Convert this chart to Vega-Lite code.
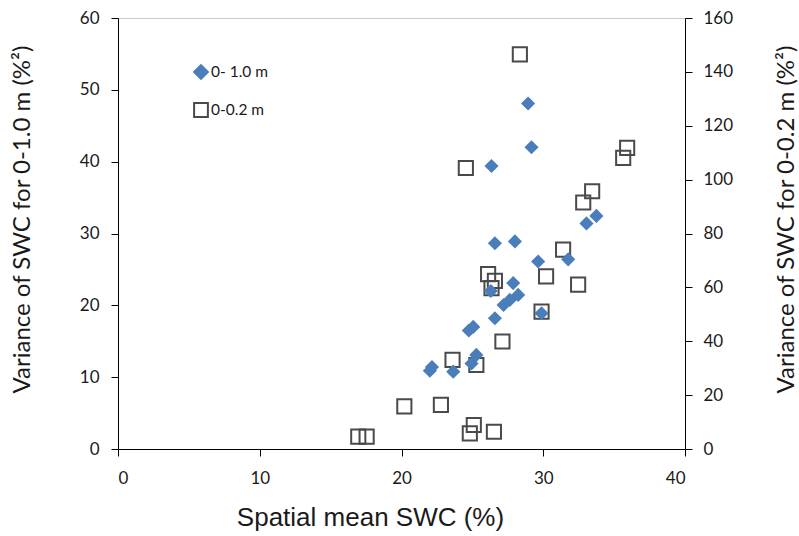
{
  "$schema": "https://vega.github.io/schema/vega-lite/v6.json",
  "width": 567,
  "height": 431,
  "autosize": {"type": "none"},
  "padding": {"left": 118, "top": 18, "right": 114, "bottom": 87},
  "background": "white",
  "config": {
    "view": {"stroke": "#c8c8c8", "strokeWidth": 1},
    "font": "Lato",
    "axis": {
      "grid": false,
      "domainColor": "#000",
      "domainWidth": 1,
      "tickColor": "#000",
      "tickSize": 7,
      "labelFont": "Lato",
      "labelFontSize": 17,
      "labelColor": "#1a1a1a",
      "labelPadding": 12,
      "titleFont": "Lato",
      "titleFontSize": 24,
      "titleFontWeight": "normal",
      "titleColor": "#1a1a1a"
    },
    "legend": {
      "labelFont": "Lato",
      "labelFontSize": 15.5,
      "labelColor": "#1a1a1a",
      "symbolStrokeWidth": 2,
      "symbolSize": 190,
      "rowPadding": 16,
      "labelOffset": 2,
      "padding": 0
    }
  },
  "datasets": {
    "deep": [
      {"x": 28.93, "v": 48.1, "series": "0- 1.0 m"},
      {"x": 29.17, "v": 42.0, "series": "0- 1.0 m"},
      {"x": 26.35, "v": 39.4, "series": "0- 1.0 m"},
      {"x": 33.75, "v": 32.45, "series": "0- 1.0 m"},
      {"x": 33.05, "v": 31.4, "series": "0- 1.0 m"},
      {"x": 26.59, "v": 28.65, "series": "0- 1.0 m"},
      {"x": 28.0, "v": 28.9, "series": "0- 1.0 m"},
      {"x": 31.76, "v": 26.4, "series": "0- 1.0 m"},
      {"x": 29.64, "v": 26.1, "series": "0- 1.0 m"},
      {"x": 27.88, "v": 23.1, "series": "0- 1.0 m"},
      {"x": 26.3, "v": 22.0, "series": "0- 1.0 m"},
      {"x": 28.23, "v": 21.45, "series": "0- 1.0 m"},
      {"x": 27.64, "v": 20.75, "series": "0- 1.0 m"},
      {"x": 27.2, "v": 20.05, "series": "0- 1.0 m"},
      {"x": 29.88, "v": 18.9, "series": "0- 1.0 m"},
      {"x": 26.59, "v": 18.2, "series": "0- 1.0 m"},
      {"x": 25.06, "v": 17.0, "series": "0- 1.0 m"},
      {"x": 24.75, "v": 16.5, "series": "0- 1.0 m"},
      {"x": 25.28, "v": 13.1, "series": "0- 1.0 m"},
      {"x": 24.94, "v": 11.9, "series": "0- 1.0 m"},
      {"x": 22.15, "v": 11.4, "series": "0- 1.0 m"},
      {"x": 22.0, "v": 10.9, "series": "0- 1.0 m"},
      {"x": 23.65, "v": 10.77, "series": "0- 1.0 m"}
    ],
    "shallow": [
      {"x": 28.35, "v": 146.5, "series": "0-0.2 m"},
      {"x": 24.54, "v": 104.3, "series": "0-0.2 m"},
      {"x": 35.92, "v": 111.8, "series": "0-0.2 m"},
      {"x": 35.64, "v": 108.1, "series": "0-0.2 m"},
      {"x": 33.45, "v": 95.7, "series": "0-0.2 m"},
      {"x": 32.82, "v": 91.5, "series": "0-0.2 m"},
      {"x": 31.4, "v": 74.0, "series": "0-0.2 m"},
      {"x": 26.11, "v": 64.9, "series": "0-0.2 m"},
      {"x": 26.59, "v": 62.4, "series": "0-0.2 m"},
      {"x": 26.35, "v": 59.7, "series": "0-0.2 m"},
      {"x": 30.2, "v": 64.1, "series": "0-0.2 m"},
      {"x": 32.46, "v": 61.0, "series": "0-0.2 m"},
      {"x": 29.88, "v": 51.0, "series": "0-0.2 m"},
      {"x": 27.12, "v": 39.9, "series": "0-0.2 m"},
      {"x": 23.6, "v": 33.1, "series": "0-0.2 m"},
      {"x": 25.28, "v": 31.2, "series": "0-0.2 m"},
      {"x": 20.2, "v": 15.8, "series": "0-0.2 m"},
      {"x": 22.78, "v": 16.4, "series": "0-0.2 m"},
      {"x": 25.1, "v": 8.9, "series": "0-0.2 m"},
      {"x": 24.82, "v": 5.8, "series": "0-0.2 m"},
      {"x": 26.52, "v": 6.4, "series": "0-0.2 m"},
      {"x": 16.95, "v": 4.6, "series": "0-0.2 m"},
      {"x": 17.54, "v": 4.6, "series": "0-0.2 m"}
    ]
  },
  "encoding": {
    "x": {
      "field": "x",
      "type": "quantitative",
      "scale": {"domain": [0, 40], "nice": false, "zero": false},
      "axis": {
        "values": [0, 10, 20, 30, 40],
        "labelPadding": 14,
        "title": "Spatial mean SWC (%)",
        "titleFont": "Liberation Sans",
        "titleFontSize": 26,
        "titleX": 252,
        "titleY": 68,
        "titleBaseline": "middle"
      }
    }
  },
  "layer": [
    {
      "data": {"name": "shallow"},
      "mark": {"type": "point", "filled": false, "opacity": 1, "size": 200, "strokeWidth": 2},
      "encoding": {
        "y": {
          "field": "v",
          "type": "quantitative",
          "scale": {"domain": [0, 160], "nice": false},
          "axis": {
            "orient": "right",
            "values": [0, 20, 40, 60, 80, 100, 120, 140, 160],
            "labelPadding": 11,
            "title": "Variance of SWC for 0-0.2 m (%²)",
            "titleAngle": 270,
            "titleX": 101,
            "titleY": 201,
            "titleBaseline": "middle",
            "titleAlign": "center"
          }
        },
        "shape": {
          "field": "series", "type": "nominal",
          "scale": {"domain": ["0- 1.0 m", "0-0.2 m"], "range": ["diamond", "square"]},
          "legend": {"title": null, "orient": "none", "legendX": 75, "legendY": 46}
        },
        "fill": {
          "field": "series", "type": "nominal",
          "scale": {"domain": ["0- 1.0 m", "0-0.2 m"], "range": ["#4a7ebb", "transparent"]},
          "legend": {"title": null, "orient": "none", "legendX": 75, "legendY": 46}
        },
        "stroke": {
          "field": "series", "type": "nominal",
          "scale": {"domain": ["0- 1.0 m", "0-0.2 m"], "range": ["#4a7ebb", "#4a4a4a"]},
          "legend": {"title": null, "orient": "none", "legendX": 75, "legendY": 46}
        }
      }
    },
    {
      "data": {"name": "deep"},
      "mark": {"type": "point", "filled": true, "opacity": 1, "size": 200, "strokeWidth": 0},
      "encoding": {
        "y": {
          "field": "v",
          "type": "quantitative",
          "scale": {"domain": [0, 60], "nice": false},
          "axis": {
            "orient": "left",
            "values": [0, 10, 20, 30, 40, 50, 60],
            "title": "Variance of SWC for 0-1.0 m  (%²)",
            "titleAngle": 270,
            "titleX": -96,
            "titleY": 201,
            "titleBaseline": "middle",
            "titleAlign": "center"
          }
        },
        "shape": {"field": "series", "type": "nominal"},
        "fill": {"field": "series", "type": "nominal"},
        "stroke": {"field": "series", "type": "nominal"}
      }
    }
  ],
  "resolve": {"scale": {"y": "independent"}}
}
